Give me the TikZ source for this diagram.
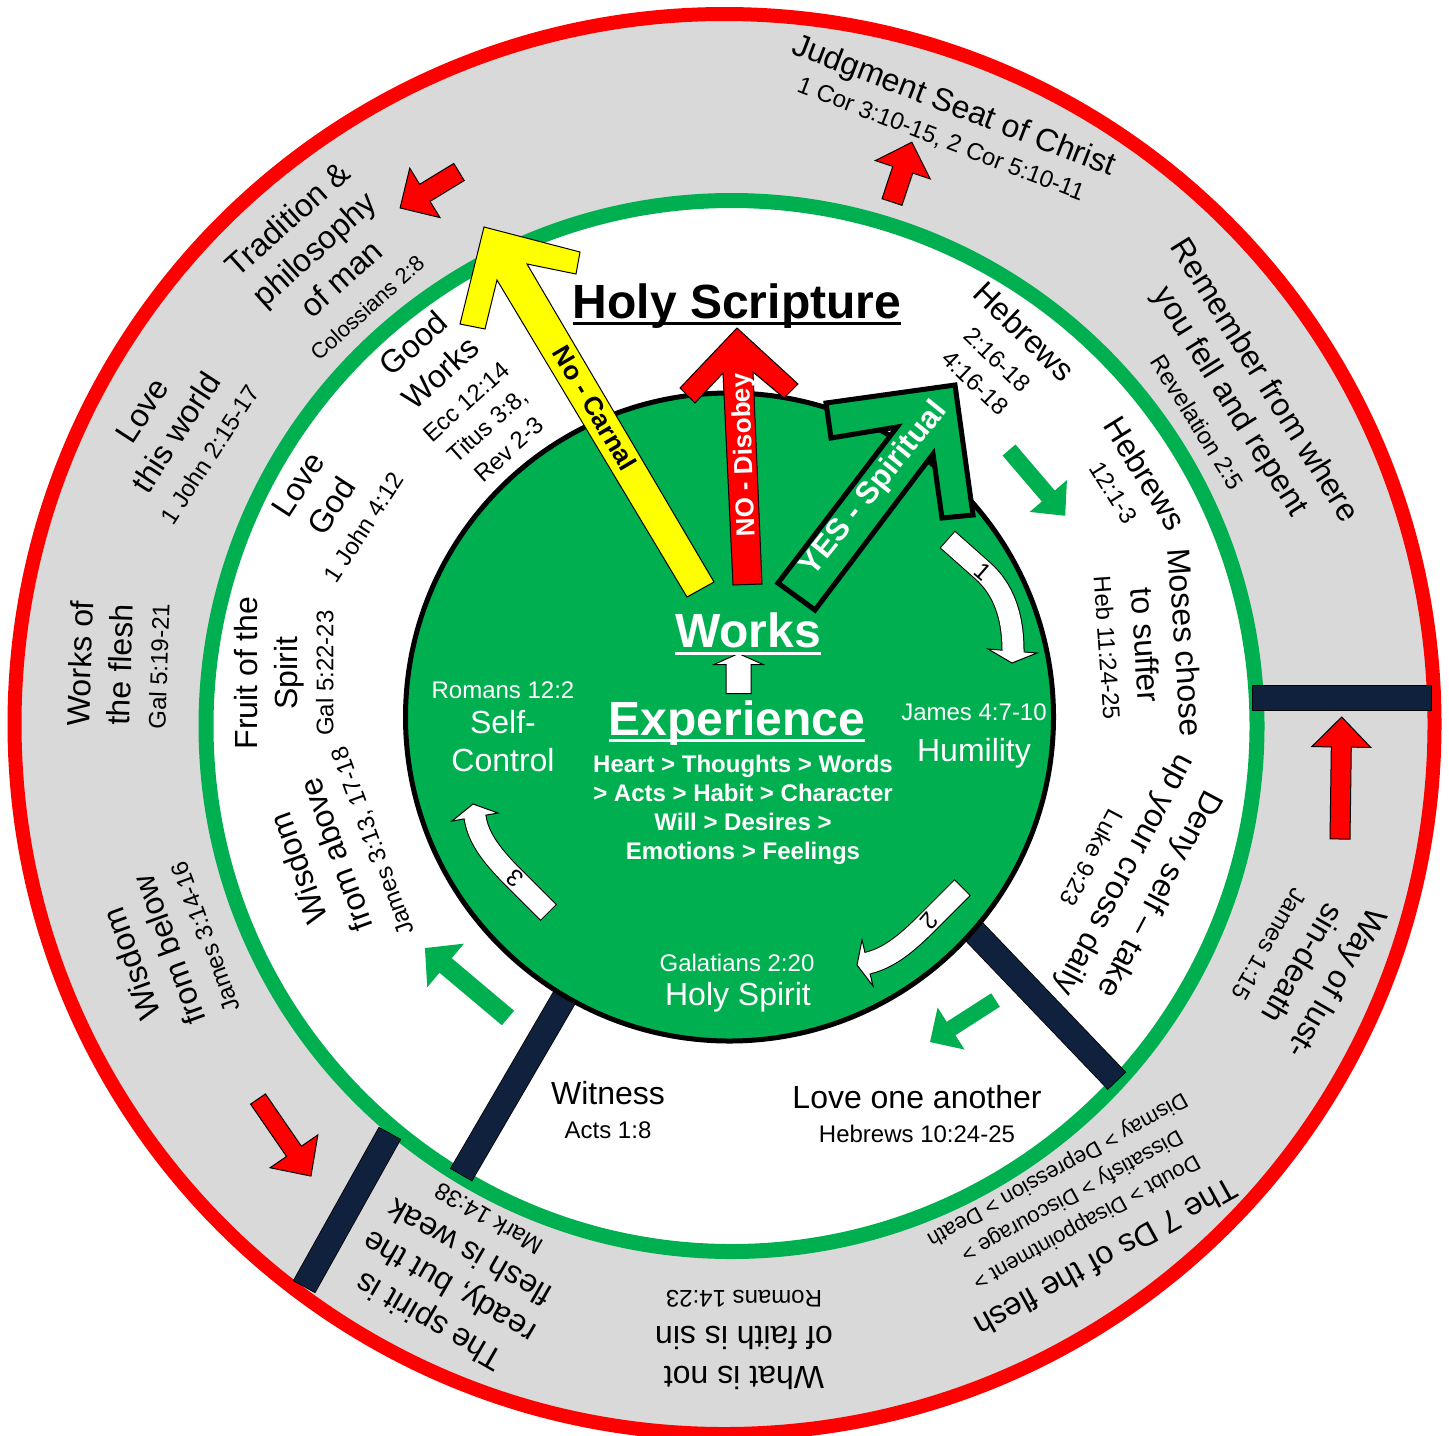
\documentclass[tikz,border=0pt]{standalone}
\usepackage{fontspec}
\setmainfont{Liberation Sans}
\definecolor{pgreen}{HTML}{00B050}
\definecolor{pred}{HTML}{FF0000}
\definecolor{pyellow}{HTML}{FFFF00}
\definecolor{pgray}{HTML}{D9D9D9}
\definecolor{pnavy}{HTML}{10213D}
\newcommand{\Lg}{\fontsize{16}{20}\selectfont}
\newcommand{\Sm}{\fontsize{12}{14}\selectfont}
\newcommand{\Xs}{\fontsize{11}{13}\selectfont}
% #1 style, #2 tail, #3 angle, #4 length, #5 shaft width, #6 head width, #7 head length
\newcommand{\blockarrow}[7]{%
  \begin{scope}[shift={#2},rotate=#3]
    \path[#1] (0,-#5/2) -- (#4-#7,-#5/2) -- (#4-#7,-#6/2) -- (#4,0)
      -- (#4-#7,#6/2) -- (#4-#7,#5/2) -- (0,#5/2) -- cycle;
  \end{scope}}
\begin{document}
\begin{tikzpicture}[x=0.5pt,y=-0.5pt,line join=miter,
  rt/.style={align=center,font=\Lg,inner sep=0pt},
  wl/.style={text=white,inner sep=0pt,anchor=base},
  barout/.style={black,line width=12.8pt},
  barin/.style={pnavy,line width=12pt,shorten <=0.4pt,shorten >=0.4pt},
  garrow/.style={fill=pgreen},
  rarrow/.style={fill=pred,draw=black,line width=0.5pt},
  warrow/.style={fill=white,draw=black,line width=0.5pt},
  cblack/.style={black,line width=11.5pt},
  cwhite/.style={white,line width=10.5pt},
  numtxt/.style={font=\fontsize{12}{14}\selectfont,inner sep=0pt}]
\useasboundingbox (0,0) rectangle (1449,1435);
\fill[white] (0,0) rectangle (1449,1435);
% rings
\draw[pred,line width=7pt,fill=pgray] (724.5,724) circle[radius=710];
\draw[pgreen,line width=7.5pt,fill=white] (731.5,726) circle[radius=525.5];
% navy bars
\draw[barout] (1252,698) -- (1432,698);
\draw[barin] (1252,698) -- (1432,698);
\draw[barout] (962,919) -- (1117,1081);
\draw[barin] (962,919) -- (1117,1081);
\draw[barout] (570,988) -- (461,1175);
\draw[barin] (570,988) -- (461,1175);
\draw[barout] (390,1133) -- (304,1287);
\draw[barin] (390,1133) -- (304,1287);
% inner disc
\draw[black,line width=2.5pt,fill=pgreen] (729.5,717) circle[radius=324];
% big arrows
\draw[black,line width=0.5pt,fill=pyellow] (687,597) -- (497,280) -- (485,329) -- (460,324) -- (484,227) -- (580,252) -- (576,274) -- (527,264) -- (714,582) -- cycle;
\draw[black,line width=0.5pt,fill=pred] (733,585) -- (723,373) -- (695,403) -- (680,388) -- (737,328) -- (798,384) -- (784,398) -- (753,372) -- (762,584) -- cycle;
\draw[black,line width=2.5pt,fill=pgreen] (815,610) -- (933,454) -- (942,518) -- (973,515) -- (955,385) -- (826,403) -- (831,438) -- (897,427) -- (778,583) -- cycle;
% small block arrows
\blockarrow{garrow}{(1009,450)}{-49.5}{86.5}{17}{49}{26}
\blockarrow{garrow}{(508,1018)}{139.9}{108.6}{19}{57}{27}
\blockarrow{garrow}{(995.5,1000)}{-147.3}{77.8}{16}{50}{25}
\blockarrow{rarrow}{(459,172)}{-148.6}{69}{20}{58}{29}
\blockarrow{rarrow}{(892,202)}{71.6}{63}{21}{58}{29}
\blockarrow{rarrow}{(1340,839)}{89.2}{122}{20}{59}{30}
\blockarrow{rarrow}{(258,1099)}{-55.5}{93.5}{18}{58}{30}
\blockarrow{warrow}{(738.5,693.5)}{90}{40}{25}{49}{11}
% curved white arrows
\draw[cblack,shorten <=-0.5pt] (948,540) -- (983,571) .. controls (1003,589) and (1013,615) .. (1013,651);
\draw[warrow] (988,649) -- (1012,663) -- (1037,653) -- cycle;
\draw[cwhite] (948,540) -- (983,571) .. controls (1003,589) and (1013,615) .. (1013,651) -- (1013,653.5);
\draw[cblack,shorten <=-0.5pt] (962,888) -- (931,919) .. controls (913,937) and (893,957) .. (868,963);
\draw[warrow] (862,940) -- (857,965) -- (873,986) -- cycle;
\draw[cwhite] (962,888) -- (931,919) .. controls (913,937) and (893,957) .. (868,963) -- (865.5,963.6);
\draw[cblack,shorten <=-0.5pt] (548,912) -- (508,872) .. controls (490,853) and (478,837) .. (475,817);
\draw[warrow] (452,821) -- (473,804) -- (498,813) -- cycle;
\draw[cwhite] (548,912) -- (508,872) .. controls (490,853) and (478,837) .. (475,817) -- (474.6,814.5);
\node[numtxt,rotate=-41] (n1) at (983,572) {1};
\node[numtxt,rotate=-131] (n2) at (929,921) {2};
\node[numtxt,rotate=139] (n3) at (515,878) {3};
% arrow labels
\node[rotate=-59.5,font=\fontsize{13}{15}\selectfont\bfseries,inner sep=0pt] (carnal) at (595,408) {No - Carnal};
\node[rotate=92,text=white,font=\fontsize{13}{15}\selectfont\bfseries,inner sep=0pt] (disob) at (745,455) {NO - Disobey};
\node[rotate=51,text=white,font=\fontsize{15.5}{18}\selectfont\bfseries,inner sep=0pt] (yes) at (874,489) {YES - Spiritual};
% central texts
\node[font=\fontsize{24}{28}\selectfont\bfseries,inner sep=0pt,anchor=base] (holys) at (737,318) {Holy Scripture};
\draw[line width=1.75pt] ([yshift=-2.75pt]holys.base west) -- ([yshift=-2.75pt]holys.base east);
\node[wl,font=\fontsize{24}{28}\selectfont\bfseries] (works) at (748,647) {Works};
\draw[white,line width=1.5pt] ([yshift=-3.2pt]works.base west) -- ([yshift=-3.2pt]works.base east);
\node[wl,font=\fontsize{24}{28}\selectfont\bfseries] (exper) at (737,735.5) {Experience};
\draw[white,line width=1.6pt] ([yshift=-2.4pt]exper.base west) -- ([yshift=-2.4pt]exper.base east);
\node[wl,font=\fontsize{12}{14}\selectfont\bfseries] (h1) at (743,772) {Heart > Thoughts > Words};
\node[wl,font=\fontsize{12}{14}\selectfont\bfseries] (h2) at (743,801) {> Acts > Habit > Character};
\node[wl,font=\fontsize{12}{14}\selectfont\bfseries] (h3) at (743,830) {Will > Desires >};
\node[wl,font=\fontsize{12}{14}\selectfont\bfseries] (h4) at (743,859) {Emotions > Feelings};
\node[wl,font=\Sm] (rom) at (503,698) {Romans 12:2};
\node[wl,font=\Lg] (self) at (503,733) {Self-};
\node[wl,font=\Lg] (control) at (503,771) {Control};
\node[wl,font=\Sm] (jam) at (974,720) {James 4:7-10};
\node[wl,font=\Lg] (humil) at (974,761) {Humility};
\node[wl,font=\Sm] (gal) at (737,971) {Galatians 2:20};
\node[wl,font=\Lg] (holysp) at (738,1005) {Holy Spirit};
% white ring texts
\node[rt,rotate=42] (goodw) at (460,395) {Good\\Works\\[-2pt]{\Sm Ecc 12:14}\\[-4pt]{\Sm Titus 3:8,}\\[-4pt]{\Sm Rev 2-3}};
\node[rt,rotate=-44] (heb1) at (1001,356) {Hebrews\\[-2pt]{\Sm 2:16-18}\\[-4pt]{\Sm 4:16-18}};
\node[rt,rotate=-58] (heb2) at (1131,482) {Hebrews\\[-3pt]{\Sm 12:1-3}};
\node[rt,rotate=-86] (moses) at (1148,645) {Moses chose\\to suffer\\[-2pt]{\Sm Heb 11:24-25}};
\node[rt,rotate=-118] (deny) at (1128,877) {Deny self – take\\up your cross daily\\[-2pt]{\Sm Luke 9:23}};
\node[rt,rotate=57] (lovegod) at (330,505) {Love\\God\\[-2pt]{\Sm 1 John 4:12}};
\node[rt,rotate=90] (fruit) at (284,673) {Fruit of the\\Spirit\\[-2pt]{\Sm Gal 5:22-23}};
\node[rt,rotate=110] (wisa) at (335,855) {Wisdom\\from above\\[-2pt]{\Sm James 3:13, 17-18}};
\node[rt] (witness) at (608,1110) {Witness\\[-3pt]{\Sm Acts 1:8}};
\node[rt] (loveone) at (917,1114) {Love one another\\[-3pt]{\Sm Hebrews 10:24-25}};
% outer ring texts
\node[rt,rotate=-21] (judg) at (948,121) {Judgment Seat of Christ\\[-3pt]{\Sm 1 Cor 3:10-15, 2 Cor 5:10-11}};
\node[rt,rotate=-58] (remem) at (1233,400) {Remember from where\\you fell and repent\\[-1pt]{\Sm Revelation 2:5}};
\node[rt,rotate=42] (trad) at (326,262) {Tradition \&\\philosophy\\of man\\[-2pt]{\Xs Colossians 2:8}};
\node[rt,rotate=57] (lovew) at (175,432) {Love\\this world\\[-1pt]{\Sm 1 John 2:15-17}};
\node[rt,rotate=88] (worksf) at (118,665) {Works of\\the flesh\\[-2pt]{\Sm Gal 5:19-21}};
\node[rt,rotate=110] (wisb) at (167,951) {Wisdom\\from below\\[-2pt]{\Sm James 3:14-16}};
\node[rt,rotate=150] (spir) at (458,1272) {The spirit is\\ready, but the\\flesh is weak\\[-2pt]{\Sm Mark 14:38}};
\node[rt,rotate=180] (what) at (744,1340) {What is not\\of faith is sin\\[-2pt]{\Sm Romans 14:23}};
\node[rt,rotate=-151] (sevend) at (1082,1214) {The 7 Ds of the flesh\\[-2pt]{\Xs Doubt > Disappointment >}\\[-5pt]{\Xs Dissatisfy > Discourage >}\\[-5pt]{\Xs Dismay > Depression > Death}};
\node[rt,rotate=-120] (way) at (1305,965) {Way of lust-\\sin-death\\[-2pt]{\Sm James 1:15}};
\end{tikzpicture}
\end{document}
